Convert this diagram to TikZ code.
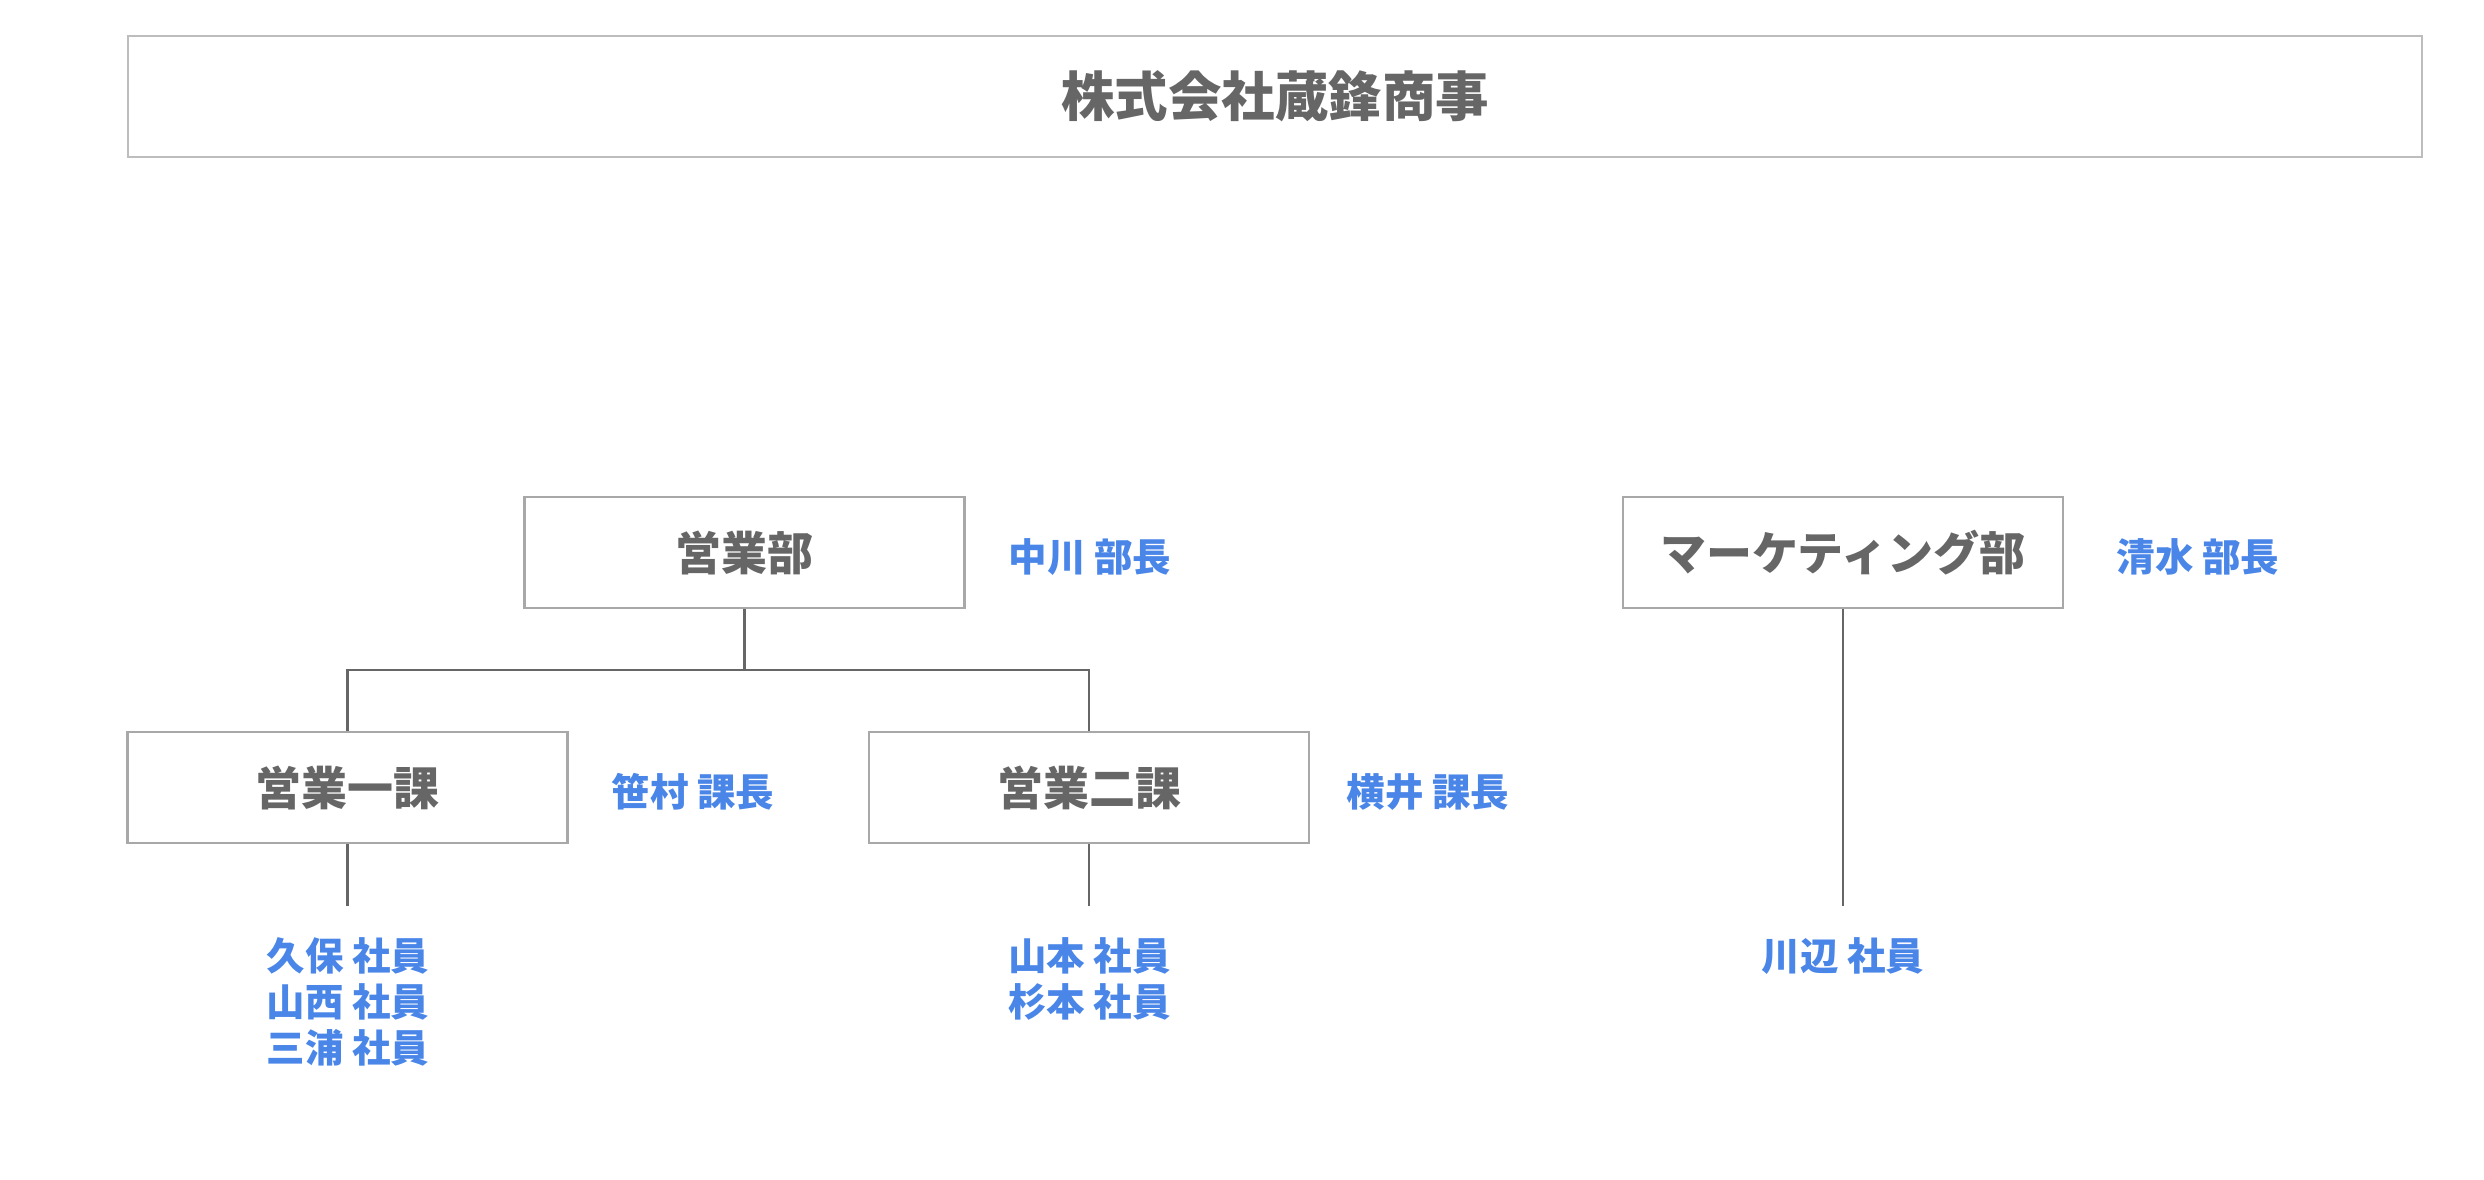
\documentclass[tikz,border=0pt]{standalone}
\usepackage{fontspec}
\newfontfamily\jp{Noto Sans CJK JP}
\definecolor{txtgray}{HTML}{666666}
\definecolor{lblblue}{HTML}{4A86E8}
\definecolor{boxgray}{HTML}{A8A8A8}
\definecolor{topgray}{HTML}{BDBDBD}
\definecolor{linegray}{HTML}{666666}
\tikzset{
  orgbox/.style={draw=boxgray, line width=2.6pt, fill=white, inner sep=0pt,
    minimum width=440pt, minimum height=111pt, text=txtgray,
    font=\jp\bfseries\fontsize{46}{55}\selectfont},
  titlebox/.style={draw=topgray, line width=2.6pt, fill=white, inner sep=0pt,
    minimum width=2294pt, minimum height=121pt, text=txtgray,
    font=\jp\bfseries\fontsize{53.5}{64}\selectfont},
  lbl/.style={inner sep=0pt, text=lblblue, align=center,
    font=\jp\bfseries\fontsize{38.5}{46}\selectfont},
  conn/.style={draw=linegray, line width=2.8pt}
}
\begin{document}
\begin{tikzpicture}[x=1pt,y=-1pt]
\useasboundingbox (0,0) rectangle (2484,1180);
\node[titlebox] (co) at (1275,96.5) {株式会社蔵鋒商事};

\node[orgbox] (eib) at (744.5,552.5) {営業部};
\node[orgbox] (mkb) at (1843,552.5) {マーケティング部};
\node[orgbox] (ka1) at (347.5,787.5) {営業一課};
\node[orgbox] (ka2) at (1089,787.5) {営業二課};

\node[lbl] (l1) at (1090,557) {中川 部長};
\node[lbl] (l2) at (2198,557) {清水 部長};
\node[lbl] (l3) at (693,792) {笹村 課長};
\node[lbl] (l4) at (1428,792) {横井 課長};

\node[lbl] (m1) at (348,1002) {久保 社員\\山西 社員\\三浦 社員};
\node[lbl] (m2) at (1089.5,979) {山本 社員\\杉本 社員};
\node[lbl] (m3) at (1843,956) {川辺 社員};

\coordinate (bar) at (744.5,670);
\coordinate (e1) at (347.5,906);
\coordinate (e2) at (1089,906);
\coordinate (e3) at (1843,906);

\draw[conn] (eib.south) -- (bar);
\draw[conn] (ka1.north) |- (bar) -| (ka2.north);
\draw[conn] (ka1.south) -- (e1);
\draw[conn] (ka2.south) -- (e2);
\draw[conn] (mkb.south) -- (e3);
\end{tikzpicture}
\end{document}
